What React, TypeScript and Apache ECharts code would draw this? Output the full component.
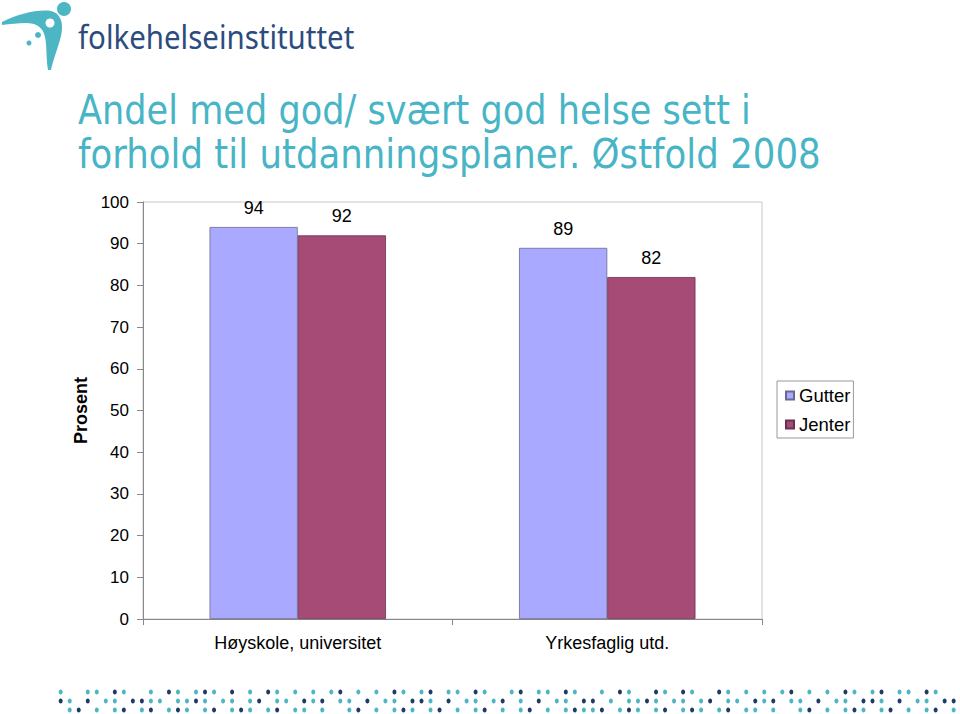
import React, { useEffect, useRef } from "react";
import * as echarts from "echarts";

const categories = ["Høyskole, universitet", "Yrkesfaglig utd."];
const seriesNames = ["Gutter", "Jenter"];
const gutterValues = [94, 89];
const jenterValues = [92, 82];
const yMin = 0;
const yMax = 100;
const yInterval = 10;

const titleLines = [
  "Andel med god/ svært god helse sett i",
  "forhold til utdanningsplaner. Østfold 2008",
];
const logoText = "folkehelseinstituttet";

// decorative dot band (t = teal, n = navy, . = empty)
const dotRows = [
  "t..tt.nt..t.nt.tnt.n.t.nt.t.t.tn.t.t.nt.tn.tt.nt..tn.tt.nt..t.nt..nt.nt..nt.t.t.tn.t.t.nt.tn.tt.nt..",
  "nt.n.tt.nntt.ttnt.tt.tn.tt.ntn.tt.n.tt.nnt.n.tt.tn.t.n.tt.nn.t.ttnt.tt.tn.tt.ntn.tt.n.tt.nnt.n.tt.nn",
  ".tn.t.tn.tn.tnt.tn.tnt.tn.tt.t..tn.t.tnt.tn.t.tn.t.tn.t.tnttn.tnt.tn.tnt.tn.tt.t..tn.t.tnt.tn.t.tn.t",
];

export default function App() {
  const ref = useRef<HTMLDivElement>(null);

  useEffect(() => {
    if (!ref.current) return;
    const chart = echarts.init(ref.current, undefined, { renderer: "svg" });

    try {
      echarts.graphic.registerShape(
        "swoosh",
        echarts.graphic.extendPath(
          "M 2 22 C 18 14 38 9 51 11 C 61 13 64 24 61 36 C 58 48 53 60 51 70 L 48 70 C 46 58 47 46 45 37 C 43 27 36 23 26 23 C 18 23 10 24 2 25 Z",
          {}
        )
      );
    } catch (e) {}

    const teal = "#4DB6C4";
    const navy = "#1E3A66";
    const dots: any[] = [];
    const rowY = [692, 701, 710];
    dotRows.forEach((row, r) => {
      for (let i = 0; i < row.length; i++) {
        const c = row[i];
        if (c === ".") continue;
        dots.push({
          type: "ellipse",
          shape: { cx: 60.7 + i * 9.02, cy: rowY[r], rx: 2, ry: 2.4 },
          style: { fill: c === "t" ? teal : navy },
          silent: true,
        });
      }
    });

    const labelFont = "Liberation Sans";

    const option: any = {
      animation: false,
      backgroundColor: "#ffffff",
      textStyle: { fontFamily: labelFont },
      grid: {
        left: 143,
        top: 202,
        right: 198,
        bottom: 95,
        show: true,
        borderColor: "#c8c8c8",
        borderWidth: 1,
        backgroundColor: "transparent",
      },
      legend: {
        orient: "vertical",
        left: 777,
        top: 381,
        data: seriesNames,
        itemWidth: 8,
        itemHeight: 8,
        itemGap: 10,
        padding: [5, 3, 4, 8],
        borderColor: "#999",
        borderWidth: 1,
        icon: "rect",
        textStyle: { fontSize: 18.5, color: "#000", fontFamily: labelFont },
      },
      xAxis: {
        type: "category",
        data: categories,
        axisLine: { lineStyle: { color: "#888", width: 1 } },
        axisTick: { show: true, alignWithLabel: false, length: 6, lineStyle: { color: "#888" } },
        axisLabel: { fontSize: 18, color: "#000", margin: 15, fontFamily: labelFont },
        splitLine: { show: false },
      },
      yAxis: {
        type: "value",
        min: yMin,
        max: yMax,
        interval: yInterval,
        name: "Prosent",
        nameLocation: "middle",
        nameGap: 52,
        nameRotate: 90,
        nameTextStyle: { fontSize: 18, fontWeight: "bold", color: "#000", fontFamily: labelFont },
        axisLine: { show: true, lineStyle: { color: "#888", width: 1 } },
        axisTick: { show: true, length: 6, lineStyle: { color: "#888" } },
        axisLabel: { fontSize: 17, color: "#000", margin: 14, fontFamily: labelFont },
        splitLine: { show: false },
      },
      series: [
        {
          name: seriesNames[0],
          type: "bar",
          data: gutterValues,
          barGap: "0%",
          barCategoryGap: "43%",
          itemStyle: { color: "#A9AAFF", borderColor: "#6a6a90", borderWidth: 0.8 },
          label: { show: true, position: "top", distance: 10, fontSize: 18, color: "#000", fontFamily: labelFont },
        },
        {
          name: seriesNames[1],
          type: "bar",
          data: jenterValues,
          barGap: "0%",
          barCategoryGap: "43%",
          itemStyle: { color: "#A64A76", borderColor: "#6a3050", borderWidth: 0.8 },
          label: { show: true, position: "top", distance: 10, fontSize: 18, color: "#000", fontFamily: labelFont },
        },
      ],
      graphic: [
        { type: "swoosh", x: 0, y: 0, style: { fill: teal }, silent: true },
        { type: "circle", shape: { cx: 64, cy: 9, r: 7 }, style: { fill: teal }, silent: true },
        { type: "circle", shape: { cx: 50, cy: 23, r: 4.5 }, style: { fill: "#ffffff" }, silent: true },
        { type: "circle", shape: { cx: 38, cy: 35, r: 3 }, style: { fill: teal }, silent: true },
        { type: "circle", shape: { cx: 29, cy: 43, r: 2.5 }, style: { fill: teal }, silent: true },
        {
          type: "text",
          x: 78,
          y: 36,
          scaleX: 0.95,
          scaleY: 1.05,
          style: {
            text: logoText,
            fill: "#2C4C7E",
            font: "31px 'Noto Sans'",
            verticalAlign: "middle",
            align: "left",
          },
          silent: true,
        },
        {
          type: "text",
          x: 78,
          y: 110,
          scaleX: 0.857,
          style: {
            text: titleLines[0],
            fill: "#47B5C6",
            font: "41px 'DejaVu Sans'",
            verticalAlign: "middle",
            align: "left",
          },
          silent: true,
        },
        {
          type: "text",
          x: 78,
          y: 154,
          scaleX: 0.868,
          style: {
            text: titleLines[1],
            fill: "#47B5C6",
            font: "41px 'DejaVu Sans'",
            verticalAlign: "middle",
            align: "left",
          },
          silent: true,
        },
        ...dots,
      ],
    };

    chart.setOption(option);
    return () => chart.dispose();
  }, []);

  return (
    <div
      ref={ref}
      style={{ position: "fixed", left: 0, top: 0, width: 960, height: 714, background: "#fff" }}
    />
  );
}
